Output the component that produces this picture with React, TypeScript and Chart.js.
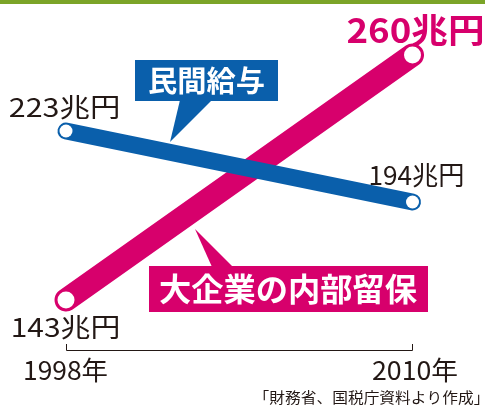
import React, { useEffect, useRef } from 'react';
import { Chart, registerables } from 'chart.js';

Chart.register(...registerables);

// ---- data ----
const years = [1998, 2010];
const wageValues = [223, 194]; // 民間給与
const retainedValues = [143, 260]; // 大企業の内部留保
const wageName = '民間給与';
const retainedName = '大企業の内部留保';
const valueUnit = '兆円';
const yearUnit = '年';
const sourceNote = '「財務省、国税庁資料より作成」';

// ---- style ----
const BLUE = '#0a5fab';
const PINK = '#d7006c';
const INK = '#231815';
const GREEN = '#7ba428';
const FONT = '"Noto Sans CJK JP", "Noto Sans", sans-serif';

type Ctx = CanvasRenderingContext2D;

function drawFitted(
  ctx: Ctx,
  text: string,
  font: string,
  color: string,
  left: number,
  width: number,
  y: number,
  mode: 'baseline' | 'center'
) {
  ctx.save();
  ctx.font = font;
  ctx.fillStyle = color;
  ctx.textAlign = 'left';
  ctx.textBaseline = 'alphabetic';
  const m = ctx.measureText(text);
  const vis = m.actualBoundingBoxLeft + m.actualBoundingBoxRight;
  const s = width / vis;
  let by = y;
  if (mode === 'center') {
    by = y + (m.actualBoundingBoxAscent - m.actualBoundingBoxDescent) / 2;
  }
  ctx.translate(left + m.actualBoundingBoxLeft * s, by);
  ctx.scale(s, 1);
  ctx.fillText(text, 0, 0);
  ctx.restore();
}

function callout(
  ctx: Ctx,
  color: string,
  box: [number, number, number, number],
  tri: [number, number][],
  text: string,
  font: string,
  textWidth: number
) {
  ctx.save();
  ctx.fillStyle = color;
  ctx.fillRect(box[0], box[1], box[2], box[3]);
  ctx.beginPath();
  ctx.moveTo(tri[0][0], tri[0][1]);
  ctx.lineTo(tri[1][0], tri[1][1]);
  ctx.lineTo(tri[2][0], tri[2][1]);
  ctx.closePath();
  ctx.fill();
  ctx.restore();
  const cx = box[0] + box[2] / 2;
  const cy = box[1] + box[3] / 2;
  drawFitted(ctx, text, font, '#ffffff', cx - textWidth / 2, textWidth, cy, 'center');
}

const decorPlugin = {
  id: 'decor',
  beforeDatasetsDraw(chart: any) {
    const ctx: Ctx = chart.ctx;
    ctx.save();
    ctx.fillStyle = GREEN;
    ctx.fillRect(0, 0, chart.width, 4);
    ctx.restore();
  },
  afterDatasetsDraw(chart: any) {
    const ctx: Ctx = chart.ctx;
    const x = chart.scales.x;
    const yP = chart.scales.y;
    const yB = chart.scales.y2;
    const x0 = x.getPixelForValue(years[0]);
    const x1 = x.getPixelForValue(years[1]);

    // callouts
    callout(ctx, BLUE, [135, 60, 143, 41], [[180, 100], [212, 100], [170, 142]], wageName, `bold 29px ${FONT}`, 115);
    callout(ctx, PINK, [149, 266, 279, 46], [[212, 267], [233, 267], [195, 229]], retainedName, `bold 32px ${FONT}`, 257);

    // value labels
    const regular = `26px ${FONT}`;
    drawFitted(ctx, `${wageValues[0]}${valueUnit}`, regular, INK, x0 - 56, 108, yB.getPixelForValue(wageValues[0]) - 14, 'baseline');
    drawFitted(ctx, `${wageValues[1]}${valueUnit}`, regular, INK, x1 - 42, 92, yB.getPixelForValue(wageValues[1]) - 17, 'baseline');
    drawFitted(ctx, `${retainedValues[0]}${valueUnit}`, regular, INK, x0 - 53, 105, yP.getPixelForValue(retainedValues[0]) + 37, 'baseline');
    drawFitted(ctx, `${retainedValues[1]}${valueUnit}`, `bold 34px ${FONT}`, PINK, x1 - 65, 135, yP.getPixelForValue(retainedValues[1]) - 12, 'baseline');

    // year bracket
    ctx.save();
    ctx.strokeStyle = INK;
    ctx.lineWidth = 1;
    ctx.beginPath();
    ctx.moveTo(Math.round(x0) + 0.5, 344);
    ctx.lineTo(Math.round(x0) + 0.5, 350.5);
    ctx.lineTo(Math.round(x1) + 0.5, 350.5);
    ctx.lineTo(Math.round(x1) + 0.5, 344);
    ctx.stroke();
    ctx.restore();

    drawFitted(ctx, `${years[0]}${yearUnit}`, regular, INK, x0 - 41, 82, 380, 'baseline');
    drawFitted(ctx, `${years[1]}${yearUnit}`, regular, INK, x1 - 39.5, 84, 380, 'baseline');

    // source
    drawFitted(ctx, sourceNote, `15px ${FONT}`, INK, 263, 217, 403, 'baseline');
  },
};

export default function App() {
  const ref = useRef<HTMLCanvasElement | null>(null);
  useEffect(() => {
    if (!ref.current) return;
    const chart = new Chart(ref.current, {
      type: 'line',
      data: {
        datasets: [
          {
            label: wageName,
            data: years.map((yr, i) => ({ x: yr, y: wageValues[i] })),
            yAxisID: 'y2',
            borderColor: BLUE,
            borderWidth: 17,
            borderCapStyle: 'round',
            pointRadius: 6.5,
            pointBackgroundColor: '#ffffff',
            pointBorderWidth: 0,
            pointHoverRadius: 6.5,
            clip: false,
            tension: 0,
          },
          {
            label: retainedName,
            data: years.map((yr, i) => ({ x: yr, y: retainedValues[i] })),
            yAxisID: 'y',
            borderColor: PINK,
            borderWidth: 23,
            borderCapStyle: 'round',
            pointRadius: 8.5,
            pointBackgroundColor: '#ffffff',
            pointBorderWidth: 0,
            pointHoverRadius: 8.5,
            clip: false,
            tension: 0,
          },
        ],
      },
      options: {
        animation: false,
        responsive: false,
        devicePixelRatio: 1,
        layout: { padding: 0, autoPadding: false },
        events: [],
        plugins: {
          legend: { display: false },
          tooltip: { enabled: false },
          title: { display: false },
        },
        scales: {
          x: { type: 'linear', display: false, min: 1995.714, max: 2012.511 },
          y: { type: 'linear', display: false, min: 92.38, max: 286.27 },
          y2: { type: 'linear', display: false, min: 110.66, max: 276.51 },
        },
      },
      plugins: [decorPlugin],
    } as any);
    return () => chart.destroy();
  }, []);

  return (
    <div style={{ position: 'absolute', left: 0, top: 0, width: 485, height: 406, background: '#fff' }}>
      <canvas ref={ref} width={485} height={406} style={{ display: 'block' }} />
    </div>
  );
}
